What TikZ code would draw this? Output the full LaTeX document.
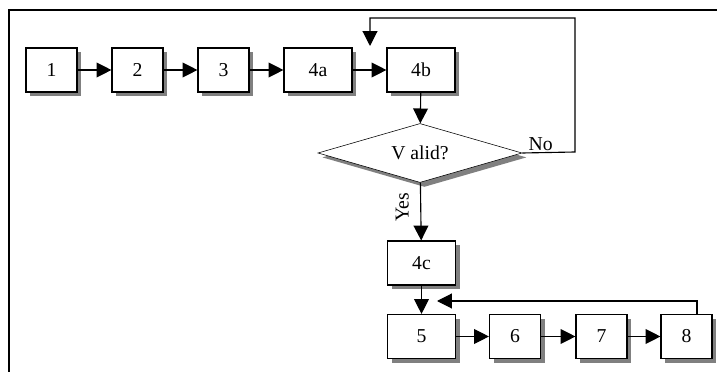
\documentclass[tikz,border=0pt]{standalone}
\usepackage{fontspec}
\setmainfont{Liberation Serif}
\usetikzlibrary{arrows.meta,shapes.geometric,shadows}
\colorlet{shadowGrey}{black!50!white}

\begin{document}
\begin{tikzpicture}[x=0.025cm, y=-0.025cm,
    box/.style={draw, fill=white, thick, inner sep=0pt, minimum height=1.1cm,
      drop shadow={shadow xshift=0.11cm, shadow yshift=-0.11cm, fill=shadowGrey, opacity=1}},
    narrow/.style={box, minimum width=1.275cm},
    wide/.style={box, minimum width=1.7cm},
    decision/.style={diamond, draw, fill=white, thin, inner sep=0pt, shape aspect=3.4,
      minimum width=5.1cm, minimum height=1.475cm,
      drop shadow={shadow xshift=0.11cm, shadow yshift=-0.11cm, fill=shadowGrey, opacity=1}},
    flow/.style={thick, -{Triangle[length=0.37cm, width=0.37cm]}},
    font=\fontsize{14}{16}\selectfont]
    \useasboundingbox (0,0) rectangle (717,372);
    \fill[white] (0,0) rectangle (717,372);
    % frame
    \draw[line width=1.4pt] (717,10) -- (9,10) -- (9,372);
    % top row
    \node[narrow] (one) at (51.5,70) {1};
    \node[narrow] (two) at (137.5,70) {2};
    \node[narrow] (three) at (223.5,70) {3};
    \node[wide] (fourA) at (318,70) {4a};
    \node[wide] (fourB) at (421,70) {4b};
    \node[decision] (valid) at (420,153) {V alid?};
    \node[wide] (fourC) at (421.5,263) {4c};
    % bottom row
    \node[wide] (five) at (421.5,336.5) {5};
    \node[narrow] (six) at (515,336.5) {6};
    \node[narrow] (seven) at (601.5,336.5) {7};
    \node[narrow] (eight) at (686.5,336.5) {8};
    \coordinate (backTop) at (370,46);
    \coordinate (backLow) at (437,301);
    \coordinate (backX) at (697,0);
    \draw[flow] (one) -- (two);
    \draw[flow] (two) -- (three);
    \draw[flow] (three) -- (fourA);
    \draw[flow] (fourA) -- (fourB);
    \draw[flow] (fourB) -- (valid);
    \draw[flow] (valid) -- node[pos=0.43, rotate=90, anchor=south, inner sep=8pt] {Yes} (fourC);
    \draw[flow] (fourC) -- (five);
    \draw[flow] (five) -- (six);
    \draw[flow] (six) -- (seven);
    \draw[flow] (seven) -- (eight);
    \draw[flow] (valid.east) -- node[above, pos=0.35, inner sep=1pt] {No} (575,152) |- (370,18) -- (backTop);
    \draw[flow] (eight.north -| backX) |- (backLow);
\end{tikzpicture}
\end{document}
